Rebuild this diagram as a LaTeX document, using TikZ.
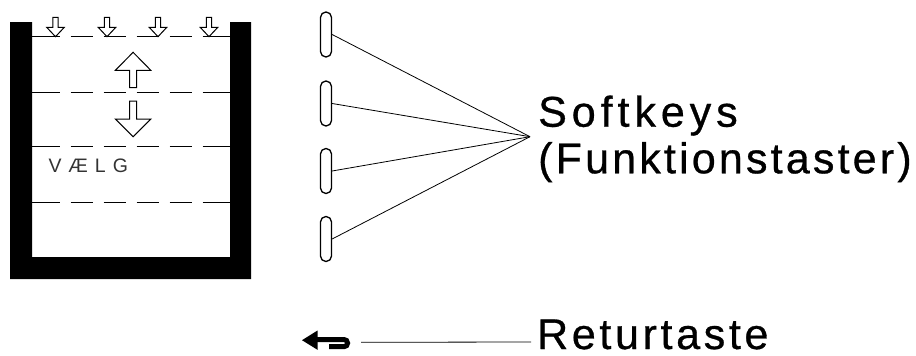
\documentclass[tikz,border=0pt]{standalone}
\usepackage{fontspec}
\setmainfont{Liberation Sans}
\newfontfamily\labelfont{Liberation Sans}[LetterSpace=8.5, FakeBold=0.7]
\begin{document}
\begin{tikzpicture}[x=1pt,y=-1pt,
  outline/.style={line width=1pt, fill=white, line join=miter},
  sepline/.style={line width=1pt},
  keyslot/.style={draw, line width=1.3pt, rounded corners=5.4pt,
    minimum width=11pt, minimum height=45pt, inner sep=0pt},
  connector/.style={line width=0.8pt},
  bigtext/.style={font=\labelfont\fontsize{43}{46}\selectfont,
    inner sep=0pt, anchor=base west},
  screentext/.style={font=\fontsize{19.5}{20}\selectfont, text=black!80,
    inner sep=0pt, anchor=base west}
]
\useasboundingbox (0,0) rectangle (916,356);

% display housing
\fill (10,22) -- (32,22) -- (32,257) -- (230,257) -- (230,22) -- (251,22)
  -- (251,279) -- (10,279) -- cycle;

% dashed row separators
\foreach \y in {36.7,92.3,146.7,202}{
  \foreach \a/\b in {32/60,70.7/92.7,103.5/125.5,136.7/158.7,169.5/192,202.7/230}
    \draw[sepline] (\a,\y) -- (\b,\y);
}

% small down arrows above the top row
\foreach \x in {55.5,107,158,209}{
  \draw[outline] (\x-2.6,17.3) -- (\x+2.6,17.3) -- (\x+2.6,27.3) -- (\x+8.8,27.3)
    -- (\x,36.7) -- (\x-8.8,27.3) -- (\x-2.6,27.3) -- cycle;
}

% scroll arrows
\draw[outline] (133.1,52.3) -- (150.8,70.3) -- (136.5,70.3) -- (136.5,87.7)
  -- (129.7,87.7) -- (129.7,70.3) -- (115.4,70.3) -- cycle;
\draw[outline] (129.7,101) -- (136.5,101) -- (136.5,119) -- (150.8,119)
  -- (133.1,136.7) -- (115.4,119) -- (129.7,119) -- cycle;

\node[screentext] (valg) at (48.3,172.3) {V\kern7ptÆ\kern7ptL\kern7ptG};

% softkeys
\foreach \i/\y in {1/34.5,2/103.5,3/171,4/239}
  \node[keyslot] (k\i) at (326,\y) {};
\coordinate (hub) at (530,136.7);
\foreach \i in {1,...,4}
  \draw[connector] (k\i.east) -- (hub);

\node[bigtext] (sk1) at (538,126.7) {\addfontfeature{LetterSpace=11.5}Softkeys};
\node[bigtext] (sk2) at (538,173.3) {\addfontfeature{LetterSpace=7.4}(Funktionstaster)};

% return key symbol
\fill (302,340.2) -- (317.5,330.5) -- (317.5,349.8) -- cycle;
\draw[line width=5pt] (316,339.5) -- (344,339.5)
  arc[start angle=-90, end angle=90, radius=3.6] -- (329,346.7);
\coordinate (retstart) at (361,342.3);

\node[bigtext] (ret) at (537,349) {Returtaste};
\draw[connector] (retstart) -- ([shift={(-6,-7)}]ret.base west);
\end{tikzpicture}
\end{document}
